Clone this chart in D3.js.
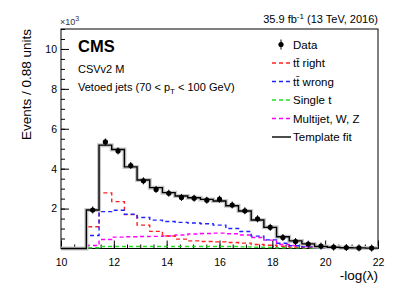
<!DOCTYPE html>
<html><head><meta charset="utf-8">
<script src="https://cdn.jsdelivr.net/npm/d3@7"></script>
<style>
body{margin:0;background:#fff;}
text{font-family:"Liberation Sans",Arial,sans-serif;}
</style></head>
<body><svg id="c" width="407" height="293"></svg>
<script>
// bin centers of -log(lambda) histogram (bin width 0.48)
const binCenters = [10.24,10.72,11.2,11.68,12.16,12.64,13.12,13.6,14.08,14.56,15.04,15.52,16.0,16.48,16.96,17.44,17.92,18.4,18.88,19.36,19.84,20.32,20.8,21.28,21.76];
const binWidth = 0.48;
// values in units of 10^3 events
const dataVals = [0,0,1.93,5.34,4.89,4.16,3.39,2.96,2.77,2.56,2.52,2.42,2.47,2.18,1.89,1.49,1.06,0.55,0.35,0.22,0.12,0.07,0.05,0.03,0.02];
const fitVals  = [0,0,1.93,5.18,4.96,4.09,3.43,3.05,2.80,2.63,2.54,2.46,2.38,2.14,1.88,1.43,1.06,0.59,0.38,0.23,0.10,0.06,0.04,0.03,0.02];
const ttRight  = [0,0,1.09,2.79,2.35,1.70,1.17,0.86,0.63,0.47,0.38,0.35,0.33,0.30,0.27,0.20,0.16,0.11,0.07,0.05,0.03,0.02,0.01,0.01,0.0];
const ttWrong  = [0,0,0.65,1.85,1.92,1.72,1.55,1.42,1.35,1.31,1.28,1.24,1.17,1.00,0.85,0.62,0.43,0.26,0.14,0.08,0.04,0.02,0.01,0.01,0.0];
const singleT  = [0,0,0.04,0.10,0.10,0.10,0.10,0.10,0.10,0.10,0.10,0.10,0.10,0.10,0.08,0.06,0.05,0.04,0.03,0.02,0.01,0.01,0.01,0.0,0.0];
const multijet = [0,0,0.15,0.45,0.57,0.59,0.60,0.61,0.63,0.68,0.73,0.75,0.77,0.74,0.68,0.55,0.42,0.20,0.15,0.10,0.06,0.04,0.02,0.01,0.01];
const xMajor = [10,12,14,16,18,20,22];
const yMajor = [2,4,6,8,10];

const svg = d3.select("#c");
const L=61,R=378,T=29,B=248.5;
const x = d3.scaleLinear().domain([10,22]).range([L,R]);
const y = d3.scaleLinear().domain([0,11]).range([B,T]);

// axes
const xMinor = d3.range(10,22.001,0.5);
const yMinor = d3.range(0,11.001,0.5);
svg.append("g").attr("transform",`translate(0,${B})`)
  .call(d3.axisBottom(x).tickValues(xMinor).tickSize(-4).tickFormat(""))
  .call(g=>g.select(".domain").remove());
svg.append("g").attr("transform",`translate(0,${B})`)
  .call(d3.axisBottom(x).tickValues(xMajor).tickSize(-8).tickPadding(10).tickFormat(d3.format("d")))
  .call(g=>g.select(".domain").remove())
  .call(g=>g.selectAll("text").attr("font-size",10.5).attr("fill","#000"));
svg.append("g").attr("transform",`translate(${L},0)`)
  .call(d3.axisLeft(y).tickValues(yMinor).tickSize(-4).tickFormat(""))
  .call(g=>g.select(".domain").remove());
svg.append("g").attr("transform",`translate(${L},0)`)
  .call(d3.axisLeft(y).tickValues(yMajor).tickSize(-8).tickPadding(4).tickFormat(d3.format("d")))
  .call(g=>g.select(".domain").remove())
  .call(g=>g.selectAll("text").attr("font-size",10.5).attr("fill","#000"));
svg.selectAll(".tick line").attr("stroke","#000");

// frame
svg.append("rect").attr("x",L).attr("y",T).attr("width",R-L).attr("height",B-T)
  .attr("fill","none").attr("stroke","#000").attr("stroke-width",1);

function stepPts(vals){
  const pts=[];
  vals.forEach((v,i)=>{pts.push([binCenters[i]-binWidth/2,v]);pts.push([binCenters[i]+binWidth/2,v]);});
  return pts;
}
const line = d3.line().x(d=>x(d[0])).y(d=>y(d[1]));
const series = [
  {vals:singleT,color:"#22dd22"},
  {vals:multijet,color:"#ff00ff"},
  {vals:ttRight,color:"#ff2222"},
  {vals:ttWrong,color:"#2222ff"}
];
series.forEach(s=>{
  svg.append("path").attr("d",line(stepPts(s.vals))).attr("fill","none")
    .attr("stroke",s.color).attr("stroke-width",1.4).attr("stroke-dasharray","4,3");
});
// template fit with band
svg.append("path").attr("d",line(stepPts(fitVals))).attr("fill","none")
  .attr("stroke","#c8c8c8").attr("stroke-width",4);
svg.append("path").attr("d",line(stepPts(fitVals))).attr("fill","none")
  .attr("stroke","#000").attr("stroke-width",1.4);

// data points
const dpts = binCenters.map((c,i)=>({c,v:dataVals[i]})).filter(d=>d.v>0);
svg.selectAll(".err").data(dpts).enter().append("line")
  .attr("x1",d=>x(d.c)).attr("x2",d=>x(d.c))
  .attr("y1",d=>y(d.v)-3.5).attr("y2",d=>y(d.v)+3.5).attr("stroke","#000");
svg.selectAll(".pt").data(dpts).enter().append("circle")
  .attr("cx",d=>x(d.c)).attr("cy",d=>y(d.v)).attr("r",2.6).attr("fill","#000");

// labels
svg.append("text").attr("x",60).attr("y",25).attr("font-size",9).attr("fill","#333")
  .html('×10<tspan dy="-4" font-size="7">3</tspan>');
svg.append("text").attr("transform","rotate(-90)").attr("x",-T).attr("y",31)
  .attr("text-anchor","end").attr("font-size",13.5).text("Events / 0.88 units");
svg.append("text").attr("x",R).attr("y",280).attr("text-anchor","end").attr("font-size",13.5).text("-log(λ)");
svg.append("text").attr("x",R).attr("y",23).attr("text-anchor","end").attr("font-size",11)
  .html('35.9 fb<tspan dy="-4" font-size="8">-1</tspan><tspan dy="4"> (13 TeV, 2016)</tspan>');
svg.append("text").attr("x",78).attr("y",52).attr("font-size",16.5).attr("font-weight","bold").text("CMS");
svg.append("text").attr("x",78).attr("y",73).attr("font-size",11).text("CSVv2 M");
svg.append("text").attr("x",78).attr("y",91).attr("font-size",11)
  .html('Vetoed jets (70 &lt; p<tspan dy="3" font-size="8">T</tspan><tspan dy="-3"> &lt; 100 GeV)</tspan>');

// legend
const legend = [
  {label:"Data",type:"data"},
  {label:"tt\u0304 right",color:"#ff2222",dash:"4,3"},
  {label:"tt\u0304 wrong",color:"#2222ff",dash:"4,3"},
  {label:"Single t",color:"#22dd22",dash:"4,3"},
  {label:"Multijet, W, Z",color:"#ff00ff",dash:"4,3"},
  {label:"Template fit",color:"#000",dash:null}
];
const lg = svg.append("g");
legend.forEach((e,i)=>{
  const yy = 44.5 + i*18.5;
  if(e.type==="data"){
    lg.append("circle").attr("cx",281).attr("cy",yy).attr("r",2.6).attr("fill","#000");
    lg.append("line").attr("x1",281).attr("x2",281).attr("y1",yy-5).attr("y2",yy+5).attr("stroke","#000");
  } else {
    lg.append("line").attr("x1",272).attr("x2",291).attr("y1",yy).attr("y2",yy)
      .attr("stroke",e.color).attr("stroke-width",1.4).attr("stroke-dasharray",e.dash);
  }
  lg.append("text").attr("x",293).attr("y",yy+4).attr("font-size",11.5).text(e.label);
});
</script></body></html>
